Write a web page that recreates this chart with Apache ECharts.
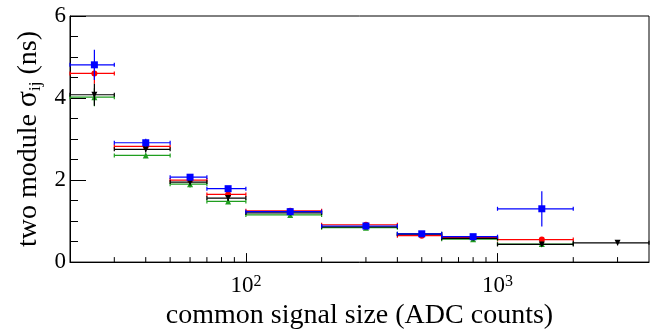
<!DOCTYPE html>
<html>
<head>
<meta charset="utf-8">
<script src="https://cdn.jsdelivr.net/npm/echarts@6/dist/echarts.min.js"></script>
<style>
  html, body { margin: 0; padding: 0; background: #fff; }
  #chart { width: 665px; height: 335px; }
</style>
</head>
<body>
<div id="chart"></div>
<script>
// bins of common signal size (ADC counts)
const binCenter = [25, 40, 60, 85, 150, 300, 500, 800, 1500, 3000];
const binLow = [20, 30, 50, 70, 100, 200, 400, 600, 1000, 2000];
const binHigh = [30, 50, 70, 100, 200, 400, 600, 1000, 2000, 4000];

// sigma_ij (ns) per module pair, null = no point
const blueVals = [4.81, 2.91, 2.07, 1.79, 1.23, 0.88, 0.69, 0.62, 1.30, null];
const blueErr = [0.37, 0.10, 0.07, 0.06, 0.04, 0.03, 0.03, 0.03, 0.43, null];
const redVals = [4.60, 2.82, 2.00, 1.65, 1.25, 0.91, 0.645, 0.60, 0.55, null];
const redErr = [0.25, 0.06, 0.05, 0.05, 0.04, 0.03, 0.03, 0.02, 0.03, null];
const blackVals = [4.08, 2.75, 1.95, 1.56, 1.20, 0.86, 0.68, 0.58, 0.43, 0.47];
const blackErr = [0.27, 0.08, 0.08, 0.07, 0.04, 0.03, 0.03, 0.03, 0.04, 0.06];
const greenVals = [4.02, 2.60, 1.90, 1.48, 1.15, 0.84, 0.69, 0.56, 0.44, null];
const greenErr = [0.22, 0.05, 0.08, 0.05, 0.03, 0.03, 0.02, 0.02, 0.03, null];

const xMinorTicks = [30, 40, 50, 60, 70, 80, 90, 200, 300, 400, 500, 600, 700, 800, 900, 2000, 3000];

const FONT = "'Liberation Serif', 'Times New Roman', serif";

const chart = echarts.init(document.getElementById("chart"), null, { renderer: "canvas" });

function rows(vals, errs) {
  const out = [];
  vals.forEach((v, i) => {
    if (v === null) return;
    out.push([binCenter[i], v, binLow[i], binHigh[i], errs[i]]);
  });
  return out;
}

// horizontal bin-width bar + vertical error bar
function errRender(color) {
  return function (params, api) {
    const x = api.value(0), y = api.value(1);
    const xl = api.value(2), xh = api.value(3), e = api.value(4);
    const pL = api.coord([xl, y]);
    const pH = api.coord([xh, y]);
    const pT = api.coord([x, y + e]);
    const pB = api.coord([x, y - e]);
    const style = { stroke: color, lineWidth: 1.2 };
    return {
      type: "group",
      children: [
        { type: "line", shape: { x1: pL[0], y1: pL[1], x2: pH[0], y2: pH[1] }, style },
        { type: "line", shape: { x1: pT[0], y1: pT[1], x2: pB[0], y2: pB[1] }, style },
        { type: "line", shape: { x1: pL[0], y1: pL[1] - 2, x2: pL[0], y2: pL[1] + 2 }, style },
        { type: "line", shape: { x1: pH[0], y1: pH[1] - 2, x2: pH[0], y2: pH[1] + 2 }, style },
      ],
    };
  };
}

const sets = [
  { name: "red", vals: redVals, errs: redErr, color: "#ff0000", symbol: "circle", size: 6, rot: 0, z: 3 },
  { name: "green", vals: greenVals, errs: greenErr, color: "#1f9e1f", symbol: "triangle", size: 6, rot: 0, z: 4 },
  { name: "black", vals: blackVals, errs: blackErr, color: "#000000", symbol: "triangle", size: 6, rot: 180, z: 5 },
  { name: "blue", vals: blueVals, errs: blueErr, color: "#0000ff", symbol: "rect", size: 7, rot: 0, z: 6 },
];

const series = [];
sets.forEach((s) => {
  const data = rows(s.vals, s.errs);
  series.push({
    name: s.name + "-err",
    type: "custom",
    renderItem: errRender(s.color),
    encode: { x: 0, y: 1 },
    data: data,
    z: s.z,
    silent: true,
  });
  series.push({
    name: s.name,
    type: "scatter",
    symbol: s.symbol,
    symbolSize: s.size,
    symbolRotate: s.rot,
    itemStyle: { color: s.color, opacity: 1 },
    data: data.map((d) => [d[0], d[1]]),
    z: s.z + 0.5,
    silent: true,
  });
});

// minor ticks on the log axis
series.push({
  name: "xminor",
  type: "custom",
  renderItem: function (params, api) {
    const p = api.coord([api.value(0), 0]);
    return {
      type: "line",
      shape: { x1: p[0], y1: p[1], x2: p[0], y2: p[1] - 5 },
      style: { stroke: "#000", lineWidth: 1 },
    };
  },
  encode: { x: 0, y: 1 },
  data: xMinorTicks.map((v) => [v, 0]),
  z: 10,
  silent: true,
});

const option = {
  animation: false,
  backgroundColor: "#ffffff",
  grid: {
    left: 70,
    right: 16,
    top: 16,
    bottom: 59,
    show: true,
    borderColor: "#000",
    borderWidth: 1,
  },
  xAxis: {
    type: "log",
    logBase: 10,
    min: 20,
    max: 4000,
    name: "common signal size (ADC counts)",
    nameLocation: "middle",
    nameGap: 30,
    nameTextStyle: { fontFamily: FONT, fontSize: 28, color: "#000" },
    axisLine: { show: true, lineStyle: { color: "#000", width: 1 } },
    axisTick: { show: true, inside: true, length: 9, lineStyle: { color: "#000" } },
    splitLine: { show: false },
    axisLabel: {
      showMinLabel: false,
      showMaxLabel: false,
      margin: 12,
      formatter: function (v) {
        if (Math.abs(v - 100) < 1e-6) return "{b|10}{s|2}";
        if (Math.abs(v - 1000) < 1e-6) return "{b|10}{s|3}";
        return "";
      },
      rich: {
        b: { fontFamily: FONT, fontSize: 23, color: "#000" },
        s: { fontFamily: FONT, fontSize: 16, color: "#000", verticalAlign: "top", padding: [0, 0, 4, 0] },
      },
    },
  },
  yAxis: {
    type: "value",
    min: 0,
    max: 6,
    interval: 2,
    name: "{a|two module }{g|σ}{s|ij}{a| (ns)}",
    nameLocation: "middle",
    nameRotate: 90,
    nameGap: 26,
    nameTextStyle: {
      rich: {
        a: { fontFamily: FONT, fontSize: 28, color: "#000" },
        g: { fontFamily: FONT, fontSize: 30, color: "#000" },
        s: { fontFamily: FONT, fontSize: 17, color: "#000", verticalAlign: "bottom" },
      },
    },
    axisLine: { show: true, lineStyle: { color: "#000", width: 1 } },
    axisTick: { show: true, inside: true, length: 16, lineStyle: { color: "#000" } },
    minorTick: { show: true, splitNumber: 4, length: 8, lineStyle: { color: "#000" } },
    splitLine: { show: false },
    axisLabel: { fontFamily: FONT, fontSize: 23, color: "#000", margin: 4 },
  },
  series: series,
};

chart.setOption(option);
</script>
</body>
</html>
